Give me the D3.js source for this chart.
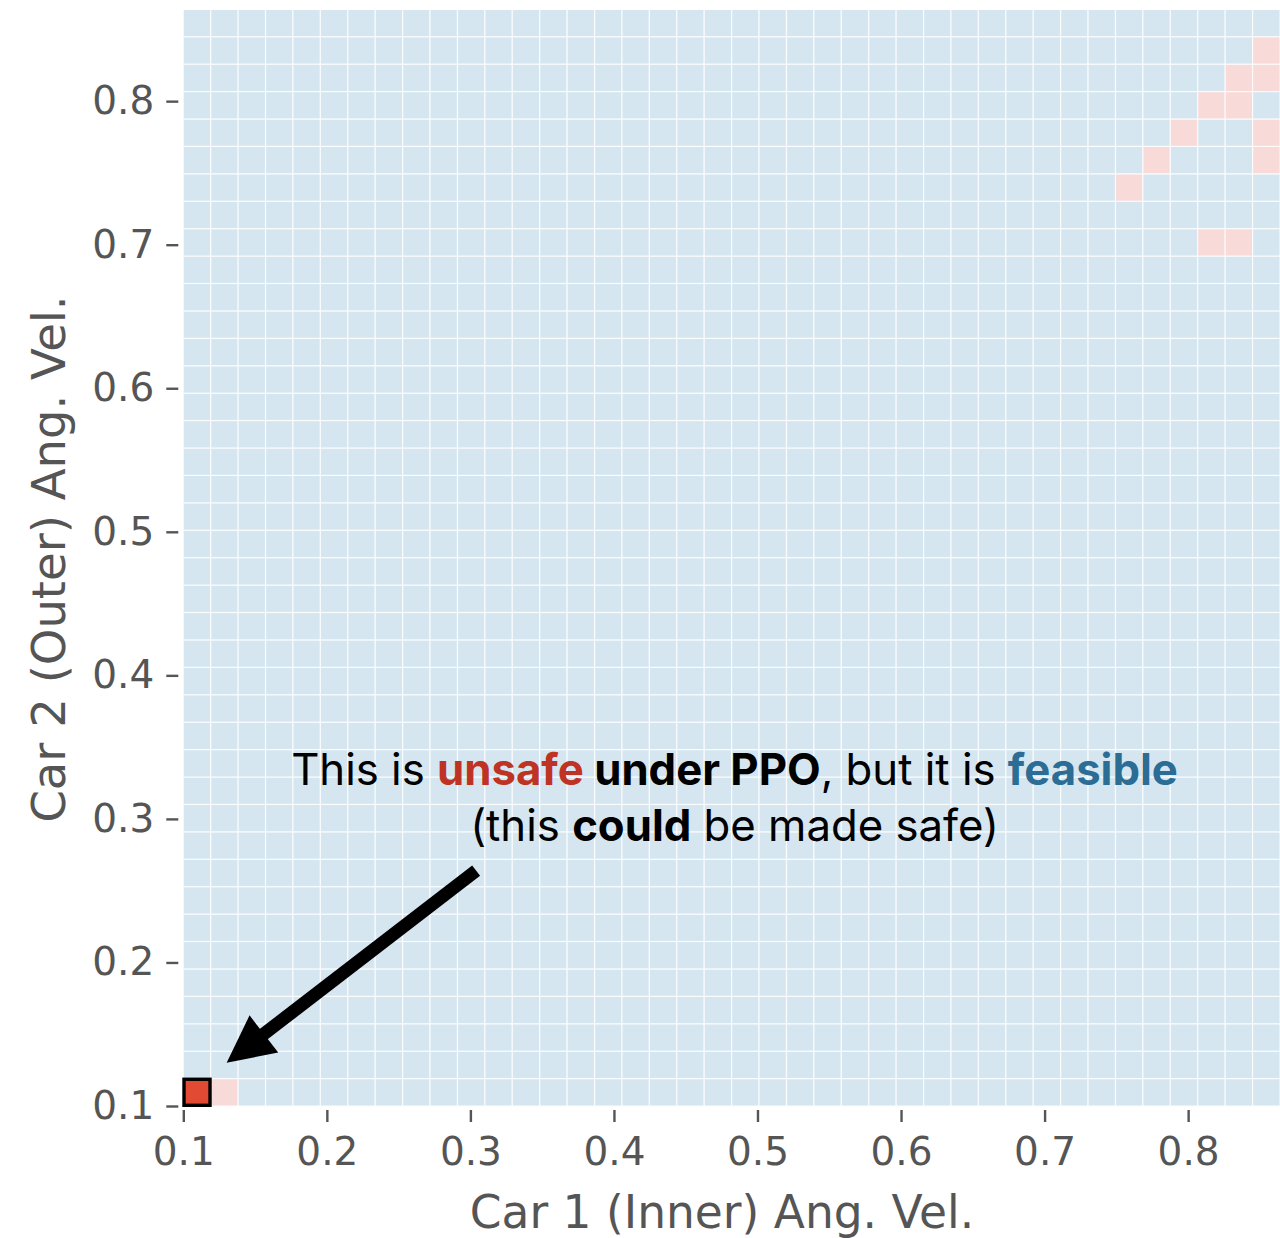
<!DOCTYPE html>
<html>
<head>
<meta charset="utf-8">
<script src="https://cdn.jsdelivr.net/npm/d3@7"></script>
<style>
  body { margin: 0; background: #fff; }
  svg { display: block; }
</style>
</head>
<body>
<div id="chart"></div>
<script>
// grid of sampled angular velocities (cell left/bottom edges)
var gridStart = 0.1;
var gridStep = 0.0191;
var gridCount = 40;

// cells marked unsafe under PPO (column index, row index)
var unsafeCol = [0, 1, 39, 38, 39, 37, 38, 36, 39, 35, 39, 34, 37, 38];
var unsafeRow = [0, 0, 38, 37, 37, 36, 36, 35, 35, 34, 34, 33, 31, 31];

// the highlighted cell that is feasible
var highlightCell = [0, 0];

var xTicks = [0.1, 0.2, 0.3, 0.4, 0.5, 0.6, 0.7, 0.8];
var yTicks = [0.1, 0.2, 0.3, 0.4, 0.5, 0.6, 0.7, 0.8];

var arrowFrom = [0.304, 0.264];
var arrowTo = [0.1302, 0.1302];
var noteAt = [0.484, 0.3235, 0.2845];

var width = 1280, height = 1238;
var plotLeft = 183.3, plotRight = 1280, plotTop = 10, plotBottom = 1106;

var svg = d3.select("#chart").append("svg").attr("width", width).attr("height", height);

var x = d3.scaleLinear().domain([0.1, 0.864]).range([plotLeft, plotRight]);
var y = d3.scaleLinear().domain([0.1, 0.8635]).range([plotBottom, plotTop]);

svg.append("clipPath").attr("id", "plotClip")
  .append("rect").attr("x", plotLeft).attr("y", plotTop)
  .attr("width", plotRight - plotLeft).attr("height", plotBottom - plotTop);

var plot = svg.append("g").attr("clip-path", "url(#plotClip)");

var unsafeSet = {};
unsafeCol.forEach(function(c, i) { unsafeSet[c + "," + unsafeRow[i]] = true; });

var cells = [];
for (var i = 0; i < gridCount; i++) {
  for (var j = 0; j < gridCount; j++) {
    cells.push({ col: i, row: j, unsafe: !!unsafeSet[i + "," + j] });
  }
}

plot.append("rect").attr("x", plotLeft).attr("y", plotTop)
  .attr("width", plotRight - plotLeft).attr("height", plotBottom - plotTop)
  .attr("fill", "#f4f8fb");

plot.selectAll(".cell").data(cells).enter().append("rect")
  .attr("class", "cell")
  .attr("x", function(d) { return x(gridStart + d.col * gridStep); })
  .attr("y", function(d) { return y(gridStart + (d.row + 1) * gridStep); })
  .attr("width", function(d) { return x(gridStart + (d.col + 1) * gridStep) - x(gridStart + d.col * gridStep); })
  .attr("height", function(d) { return y(gridStart + d.row * gridStep) - y(gridStart + (d.row + 1) * gridStep); })
  .attr("fill", function(d) { return d.unsafe ? "#f8dad8" : "#d6e6f0"; })
  .attr("stroke", "#ffffff")
  .attr("stroke-opacity", 0.75)
  .attr("stroke-width", 1.2);

// highlighted cell
var hx0 = x(gridStart + highlightCell[0] * gridStep), hx1 = x(gridStart + (highlightCell[0] + 1) * gridStep);
var hy0 = y(gridStart + (highlightCell[1] + 1) * gridStep), hy1 = y(gridStart + highlightCell[1] * gridStep);
svg.append("rect")
  .attr("x", hx0 + 0.7).attr("y", hy0 + 0.7)
  .attr("width", hx1 - hx0 - 1.4).attr("height", hy1 - hy0 - 1.4)
  .attr("fill", "#e24a33").attr("stroke", "#000").attr("stroke-width", 3.4);

// axes
var tickColor = "#555555";
var xAxis = svg.append("g").attr("transform", "translate(0," + (plotBottom + 4) + ")")
  .call(d3.axisBottom(x).tickValues(xTicks).tickSize(12).tickPadding(15).tickFormat(d3.format(".1f")));
var yAxis = svg.append("g").attr("transform", "translate(" + (plotLeft - 5) + ",0)")
  .call(d3.axisLeft(y).tickValues(yTicks).tickSize(12).tickPadding(12).tickFormat(d3.format(".1f")));

[xAxis, yAxis].forEach(function(a) {
  a.select(".domain").remove();
  a.selectAll(".tick line").attr("stroke", tickColor).attr("stroke-width", 2.4);
  a.selectAll(".tick text").attr("fill", tickColor)
    .style("font-family", "'DejaVu Sans', sans-serif").style("font-size", "39px");
});

svg.append("text")
  .attr("x", 722).attr("y", 1228)
  .attr("text-anchor", "middle")
  .style("font-family", "'DejaVu Sans', sans-serif").style("font-size", "45.5px")
  .attr("fill", tickColor)
  .text("Car 1 (Inner) Ang. Vel.");

svg.append("text")
  .attr("transform", "translate(65," + 559 + ") rotate(-90)")
  .attr("text-anchor", "middle")
  .style("font-family", "'DejaVu Sans', sans-serif").style("font-size", "46.5px")
  .attr("fill", tickColor)
  .text("Car 2 (Outer) Ang. Vel.");

// annotation
var note = svg.append("g").style("font-family", "Inter, 'Open Sans', sans-serif");
var line1 = note.append("text").attr("x", x(noteAt[0])).attr("y", y(noteAt[1]))
  .attr("text-anchor", "middle").attr("fill", "#000").style("font-size", "40px");
line1.append("tspan").text("This is ");
line1.append("tspan").attr("font-weight", "bold").attr("fill", "#bf3324").text("unsafe");
line1.append("tspan").attr("font-weight", "bold").text(" under PPO");
line1.append("tspan").text(", but it is ");
line1.append("tspan").attr("font-weight", "bold").attr("fill", "#2b6d95").text("feasible");

var line2 = note.append("text").attr("x", x(noteAt[0])).attr("y", y(noteAt[2]))
  .attr("text-anchor", "middle").attr("fill", "#000").style("font-size", "40px");
line2.append("tspan").text("(this ");
line2.append("tspan").attr("font-weight", "bold").text("could");
line2.append("tspan").text(" be made safe)");

var w1 = line1.node().getComputedTextLength();
var fs = 40 * 887 / w1;
line1.style("font-size", fs + "px");
line2.style("font-size", fs + "px");

// arrow
var ax0 = x(arrowFrom[0]), ay0 = y(arrowFrom[1]);
var ax1 = x(arrowTo[0]), ay1 = y(arrowTo[1]);
var ang = Math.atan2(ay1 - ay0, ax1 - ax0);
var headLen = 47, headHalf = 23.5, shaft = 13;
var bx = ax1 - headLen * Math.cos(ang), by = ay1 - headLen * Math.sin(ang);
svg.append("line")
  .attr("x1", ax0).attr("y1", ay0).attr("x2", bx + 4 * Math.cos(ang)).attr("y2", by + 4 * Math.sin(ang))
  .attr("stroke", "#000").attr("stroke-width", shaft);
var px = -Math.sin(ang), py = Math.cos(ang);
svg.append("path")
  .attr("d", "M" + ax1 + "," + ay1 +
    "L" + (bx + px * headHalf) + "," + (by + py * headHalf) +
    "L" + (bx - px * headHalf) + "," + (by - py * headHalf) + "Z")
  .attr("fill", "#000");
</script>
</body>
</html>
